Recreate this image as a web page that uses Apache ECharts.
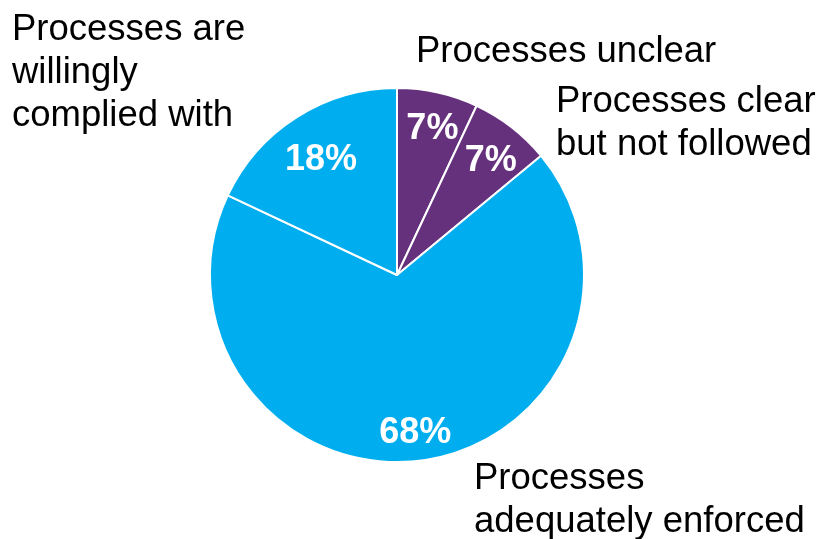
<!DOCTYPE html>
<html>
<head>
<meta charset="utf-8">
<script src="https://cdn.jsdelivr.net/npm/echarts@6/dist/echarts.min.js"></script>
<style>
html,body{margin:0;padding:0;background:#fff;}
#chart{width:825px;height:539px;}
</style>
</head>
<body>
<div id="chart"></div>
<script>
// Data
var categories = [
  'Processes unclear',
  'Processes clear\nbut not followed',
  'Processes\nadequately enforced',
  'Processes are\nwillingly\ncomplied with'
];
var values = [7, 7, 68, 18];
var colors = ['#65307c', '#65307c', '#00aeef', '#00aeef'];

// Layout (label anchor points for outside category names, offsets for value labels)
var namePos = [
  {x: 416, y: 30},
  {x: 556, y: 80},
  {x: 474, y: 457},
  {x: 12,  y: 8}
];
var valueOffset = [[2, 3], [0, 7], [-1, 6], [6, 14]];

var FONT = '"Liberation Sans", Arial, Helvetica, sans-serif';
var center = [397, 275];
var R = 187;

var sliceData = categories.map(function (c, i) {
  return {name: c, value: values[i], itemStyle: {color: colors[i]}};
});
var valueData = categories.map(function (c, i) {
  return {name: c, value: values[i], label: {offset: valueOffset[i]}};
});
var nameData = categories.map(function (c, i) {
  return {name: c, value: values[i]};
});

var chart = echarts.init(document.getElementById('chart'), null, {renderer: 'canvas'});
chart.setOption({
  animation: false,
  backgroundColor: '#ffffff',
  series: [
    {
      type: 'pie',
      center: center,
      radius: [0, R],
      startAngle: 90,
      clockwise: true,
      silent: true,
      avoidLabelOverlap: false,
      data: sliceData,
      itemStyle: {borderColor: '#ffffff', borderWidth: 2},
      label: {show: false},
      labelLine: {show: false},
      emphasis: {disabled: true}
    },
    {
      type: 'pie',
      center: center,
      radius: [113, R],
      startAngle: 90,
      clockwise: true,
      silent: true,
      avoidLabelOverlap: false,
      data: valueData,
      itemStyle: {color: 'rgba(0,0,0,0)', borderWidth: 0},
      label: {
        show: true,
        position: 'inside',
        formatter: function (p) { return p.value + '%'; },
        color: '#ffffff',
        fontFamily: FONT,
        fontWeight: 'bold',
        fontSize: 36
      },
      labelLine: {show: false},
      emphasis: {disabled: true}
    },
    {
      type: 'pie',
      center: center,
      radius: [0, R],
      startAngle: 90,
      clockwise: true,
      silent: true,
      avoidLabelOverlap: false,
      data: nameData,
      itemStyle: {color: 'rgba(0,0,0,0)', borderWidth: 0},
      label: {
        show: true,
        position: 'outside',
        formatter: '{b}',
        color: '#000000',
        fontFamily: FONT,
        fontSize: 36.5,
        lineHeight: 43,
        align: 'left'
      },
      labelLine: {show: false},
      labelLayout: function (p) {
        var pos = namePos[p.dataIndex];
        return {x: pos.x, y: pos.y, align: 'left', verticalAlign: 'top', hideOverlap: false, moveOverlap: null};
      },
      emphasis: {disabled: true}
    }
  ]
});
</script>
</body>
</html>
